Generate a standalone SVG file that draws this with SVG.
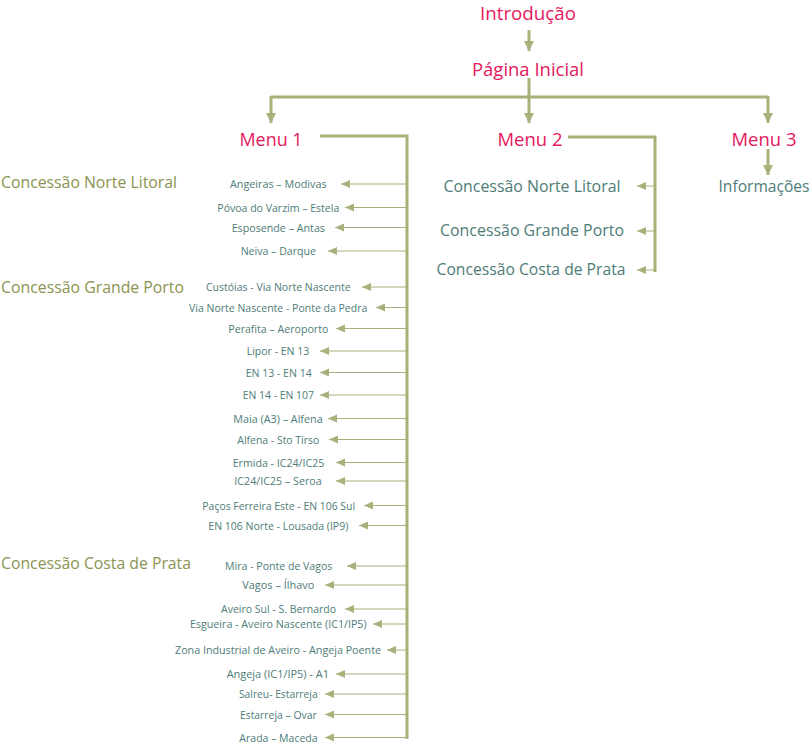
<svg xmlns="http://www.w3.org/2000/svg" width="811" height="745" viewBox="0 0 811 745">
<style>
  text { font-family: "Open Sans", "Noto Sans", "Liberation Sans", sans-serif; }
  .pink { fill: #e5185e; font-size: 19px; text-anchor: middle; }
  .teal { fill: #4e7c78; font-size: 15.5px; text-anchor: middle; }
  .olive { fill: #8b9450; font-size: 15.5px; }
  .item { fill: #4e7c78; font-size: 10.5px; text-anchor: middle; }
  .thick { stroke: #abb07a; stroke-width: 3; fill: none; }
  .thin { stroke: #abb07a; stroke-width: 1; fill: none; }
</style>
<defs>
  <marker id="big" markerUnits="userSpaceOnUse" markerWidth="12" markerHeight="12" viewBox="0 0 12 12" refX="10" refY="6" orient="auto">
    <path d="M0,1 L10,6 L0,11 Z" fill="#abb07a"/>
  </marker>
  <marker id="small" markerUnits="userSpaceOnUse" markerWidth="10" markerHeight="10" viewBox="0 0 10 10" refX="9" refY="5" orient="auto">
    <path d="M0,1 L9,5 L0,9 Z" fill="#abb07a"/>
  </marker>
</defs>

<g id="connectors">
  <path class="thick" d="M529,30 V51" marker-end="url(#big)"/>
  <path class="thick" d="M529,78 V123" marker-end="url(#big)"/>
  <path class="thick" d="M271,97 H768"/>
  <path class="thick" d="M271,96 V123" marker-end="url(#big)"/>
  <path class="thick" d="M768,96 V123" marker-end="url(#big)"/>
  <path class="thick" d="M768,149 V175" marker-end="url(#big)"/>
  <!-- Menu 2 -->
  <path class="thick" d="M568,137 H655 V272"/>
  <path class="thin" d="M655,186 H637" marker-end="url(#small)"/>
  <path class="thin" d="M655,231 H637" marker-end="url(#small)"/>
  <path class="thin" d="M655,270 H637" marker-end="url(#small)"/>
  <!-- Menu 1 -->
  <path class="thick" d="M320,136 H407 V739"/>
  <path class="thin" d="M407,184 H341" marker-end="url(#small)"/>
  <path class="thin" d="M407,207.5 H345" marker-end="url(#small)"/>
  <path class="thin" d="M407,227.5 H335" marker-end="url(#small)"/>
  <path class="thin" d="M407,251 H328" marker-end="url(#small)"/>
  <path class="thin" d="M407,287 H362" marker-end="url(#small)"/>
  <path class="thin" d="M407,307.5 H376" marker-end="url(#small)"/>
  <path class="thin" d="M407,328.5 H336" marker-end="url(#small)"/>
  <path class="thin" d="M407,351 H320" marker-end="url(#small)"/>
  <path class="thin" d="M407,372.5 H320" marker-end="url(#small)"/>
  <path class="thin" d="M407,395 H320" marker-end="url(#small)"/>
  <path class="thin" d="M407,418.5 H328" marker-end="url(#small)"/>
  <path class="thin" d="M407,439.5 H329" marker-end="url(#small)"/>
  <path class="thin" d="M407,462.5 H336" marker-end="url(#small)"/>
  <path class="thin" d="M407,481 H336" marker-end="url(#small)"/>
  <path class="thin" d="M407,505.5 H364" marker-end="url(#small)"/>
  <path class="thin" d="M407,525.5 H359" marker-end="url(#small)"/>
  <path class="thin" d="M407,566 H347" marker-end="url(#small)"/>
  <path class="thin" d="M407,585 H325" marker-end="url(#small)"/>
  <path class="thin" d="M407,609 H345" marker-end="url(#small)"/>
  <path class="thin" d="M407,624 H373" marker-end="url(#small)"/>
  <path class="thin" d="M407,650 H387" marker-end="url(#small)"/>
  <path class="thin" d="M407,674 H336" marker-end="url(#small)"/>
  <path class="thin" d="M407,694 H325" marker-end="url(#small)"/>
  <path class="thin" d="M407,714.5 H325" marker-end="url(#small)"/>
  <path class="thin" d="M407,737.5 H325" marker-end="url(#small)"/>
</g>

<g id="intro"><text class="pink" x="528" y="19.5" textLength="96" lengthAdjust="spacingAndGlyphs">Introdução</text></g>
<g id="pagina"><text class="pink" x="528" y="76" textLength="112" lengthAdjust="spacingAndGlyphs">Página Inicial</text></g>
<g id="menu1"><text class="pink" x="271" y="146" textLength="63" lengthAdjust="spacingAndGlyphs">Menu 1</text></g>
<g id="menu2"><text class="pink" x="530" y="146" textLength="65" lengthAdjust="spacingAndGlyphs">Menu 2</text></g>
<g id="menu3"><text class="pink" x="764" y="146" textLength="65" lengthAdjust="spacingAndGlyphs">Menu 3</text></g>
<g id="informacoes"><text class="teal" x="764" y="192" textLength="91" lengthAdjust="spacingAndGlyphs">Informações</text></g>

<g id="m2-norte"><text class="teal" x="532" y="192" textLength="177" lengthAdjust="spacingAndGlyphs">Concessão Norte Litoral</text></g>
<g id="m2-grande"><text class="teal" x="532" y="236" textLength="184" lengthAdjust="spacingAndGlyphs">Concessão Grande Porto</text></g>
<g id="m2-costa"><text class="teal" x="531" y="275" textLength="189" lengthAdjust="spacingAndGlyphs">Concessão Costa de Prata</text></g>

<g id="h-norte"><text class="olive" x="1" y="188" textLength="176" lengthAdjust="spacingAndGlyphs">Concessão Norte Litoral</text></g>
<g id="h-grande"><text class="olive" x="1" y="293" textLength="183" lengthAdjust="spacingAndGlyphs">Concessão Grande Porto</text></g>
<g id="h-costa"><text class="olive" x="1" y="569" textLength="190" lengthAdjust="spacingAndGlyphs">Concessão Costa de Prata</text></g>

<g id="i1"><text class="item" x="278.3" y="188" textLength="96.7" lengthAdjust="spacingAndGlyphs">Angeiras – Modivas</text></g>
<g id="i2"><text class="item" x="278.3" y="211.5" textLength="122" lengthAdjust="spacingAndGlyphs">Póvoa do Varzim – Estela</text></g>
<g id="i3"><text class="item" x="278.3" y="231.5" textLength="93.3" lengthAdjust="spacingAndGlyphs">Esposende – Antas</text></g>
<g id="i4"><text class="item" x="278.3" y="255" textLength="75.3" lengthAdjust="spacingAndGlyphs">Neiva – Darque</text></g>
<g id="i5"><text class="item" x="278.3" y="291" textLength="144.7" lengthAdjust="spacingAndGlyphs">Custóias - Via Norte Nascente</text></g>
<g id="i6"><text class="item" x="278.2" y="311.5" textLength="178.3" lengthAdjust="spacingAndGlyphs">Via Norte Nascente - Ponte da Pedra</text></g>
<g id="i7"><text class="item" x="278.3" y="332.5" textLength="100" lengthAdjust="spacingAndGlyphs">Perafita – Aeroporto</text></g>
<g id="i8"><text class="item" x="278" y="355" textLength="62.7" lengthAdjust="spacingAndGlyphs">Lipor - EN 13</text></g>
<g id="i9"><text class="item" x="278.7" y="376.5" textLength="66" lengthAdjust="spacingAndGlyphs">EN 13 - EN 14</text></g>
<g id="i10"><text class="item" x="278.3" y="399" textLength="71.3" lengthAdjust="spacingAndGlyphs">EN 14 - EN 107</text></g>
<g id="i11"><text class="item" x="278" y="422.5" textLength="89.3" lengthAdjust="spacingAndGlyphs">Maia (A3) – Alfena</text></g>
<g id="i12"><text class="item" x="278.3" y="443.5" textLength="82" lengthAdjust="spacingAndGlyphs">Alfena - Sto Tirso</text></g>
<g id="i13"><text class="item" x="278.5" y="466.5" textLength="91.7" lengthAdjust="spacingAndGlyphs">Ermida - IC24/IC25</text></g>
<g id="i14"><text class="item" x="278" y="485" textLength="87.3" lengthAdjust="spacingAndGlyphs">IC24/IC25 – Seroa</text></g>
<g id="i15"><text class="item" x="278.7" y="509.5" textLength="152.7" lengthAdjust="spacingAndGlyphs">Paços Ferreira Este - EN 106 Sul</text></g>
<g id="i16"><text class="item" x="278.3" y="529.5" textLength="140" lengthAdjust="spacingAndGlyphs">EN 106 Norte - Lousada (IP9)</text></g>
<g id="i17"><text class="item" x="278.7" y="570" textLength="107.3" lengthAdjust="spacingAndGlyphs">Mira - Ponte de Vagos</text></g>
<g id="i18"><text class="item" x="278.3" y="589" textLength="72" lengthAdjust="spacingAndGlyphs">Vagos – Ílhavo</text></g>
<g id="i19"><text class="item" x="278.5" y="613" textLength="115" lengthAdjust="spacingAndGlyphs">Aveiro Sul - S. Bernardo</text></g>
<g id="i20"><text class="item" x="278.3" y="628" textLength="176.7" lengthAdjust="spacingAndGlyphs">Esgueira - Aveiro Nascente (IC1/IP5)</text></g>
<g id="i21"><text class="item" x="278" y="654" textLength="206" lengthAdjust="spacingAndGlyphs">Zona Industrial de Aveiro - Angeja Poente</text></g>
<g id="i22"><text class="item" x="277.8" y="678" textLength="102.3" lengthAdjust="spacingAndGlyphs">Angeja (IC1/IP5) - A1</text></g>
<g id="i23"><text class="item" x="278.3" y="698" textLength="78.7" lengthAdjust="spacingAndGlyphs">Salreu- Estarreja</text></g>
<g id="i24"><text class="item" x="278.3" y="718.5" textLength="76.7" lengthAdjust="spacingAndGlyphs">Estarreja – Ovar</text></g>
<g id="i25"><text class="item" x="278.5" y="741.5" textLength="78.3" lengthAdjust="spacingAndGlyphs">Arada – Maceda</text></g>
</svg>
